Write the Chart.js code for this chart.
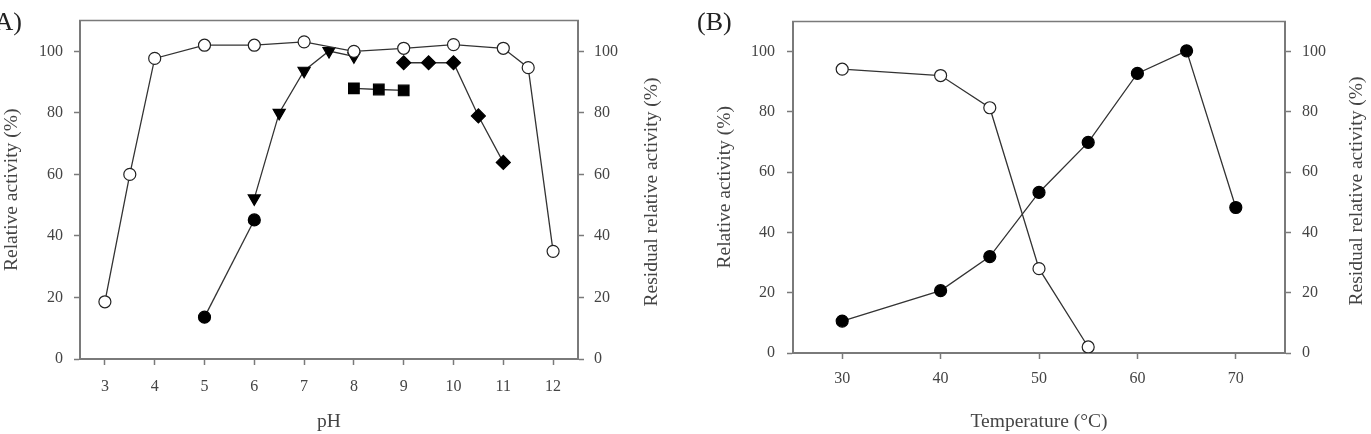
<!DOCTYPE html>
<html><head><meta charset="utf-8">
<script src="https://cdn.jsdelivr.net/npm/chart.js@4/dist/chart.umd.min.js"></script>
<style>html,body{margin:0;padding:0;background:#fff;overflow:hidden}
canvas{position:absolute;top:0}</style></head>
<body>
<canvas id="a" width="685" height="434" style="left:0"></canvas>
<canvas id="b" width="686" height="434" style="left:685px"></canvas>
<script>
// ---- tick labels ----
const pHTicks = [3,4,5,6,7,8,9,10,11,12];
const tempTicks = [30,40,50,60,70];
const yTicks = [0,20,40,60,80,100];

// ---- Panel A (pH) ----
const pH_open = [3,3.5,4,5,6,7,8,9,10,11,11.5,12];
const openA = [18.6,60,97.7,102,102,103.1,100,101,102.2,101,94.7,35];
const pH_circle = [5,6];
const circleA = [13.6,45.2];
const pH_triangle = [6,6.5,7,7.5,8];
const triangleA = [52.2,80,93.7,100.1,98.4];
const pH_square = [8,8.5,9];
const squareA = [88,87.6,87.3];
const pH_diamond = [9,9.5,10,10.5,11];
const diamondA = [96.3,96.3,96.3,79,63.9];

// ---- Panel B (temperature) ----
const temp_open = [30,40,45,50,55];
const openB = [94.2,92.1,81.4,28,2];
const temp_filled = [30,40,45,50,55,60,65,70];
const filledB = [10.6,20.7,32,53.3,69.9,92.8,100.3,48.3];

const FONT = '"Liberation Serif", "Times New Roman", serif';
const AX = '#7a7a7a';
const TXT = '#444';
const LINE = '#333';

const pts = (xs, ys) => xs.map((x, i) => ({x, y: ys[i]}));
const fixTicks = list => scale => { scale.ticks = list.map(v => ({value: v})); };

function ds(data, style, filled, radius, rotation, yAxisID){
  return {data, yAxisID, borderColor: LINE, borderWidth: 1.3,
    pointStyle: style, pointRotation: rotation || 0, pointRadius: radius,
    pointBackgroundColor: filled ? '#000' : '#fff', pointBorderColor: filled ? '#000' : '#222',
    pointBorderWidth: 1.2, pointHoverRadius: radius, tension: 0, showLine: true, fill: false};
}

function axisCommon(){
  return {
    grid: {drawOnChartArea: false, drawTicks: true, tickLength: 6, tickColor: AX, tickWidth: 1.5},
    border: {display: true, color: AX, width: 2},
  };
}

function makeOpts(cfg){
  return {
    responsive: false, animation: false, events: [],
    layout: {padding: {top: 9, left: 0, right: 0, bottom: 0}, autoPadding: false},
    plugins: {legend: {display: false}, tooltip: {enabled: false}},
    scales: {
      x: Object.assign(axisCommon(), {
        type: 'linear', min: cfg.xmin, max: cfg.xmax,
        afterBuildTicks: fixTicks(cfg.xticks),
        afterFit: s => { s.height = cfg.bottomH; },
        ticks: {font: {family: FONT, size: 16}, color: TXT, padding: cfg.xPad, maxRotation: 0, autoSkip: false},
        title: {display: true, text: cfg.xTitle, font: {family: FONT, size: 19.5}, color: TXT, padding: {top: 0, bottom: 0}}
      }),
      y: Object.assign(axisCommon(), {
        type: 'linear', position: 'left', min: 0, max: 110,
        afterBuildTicks: fixTicks(yTicks),
        afterFit: s => { s.width = cfg.leftW; },
        ticks: {font: {family: FONT, size: 16}, color: TXT, padding: cfg.yPadL},
        title: {display: true, text: 'Relative activity (%)', font: {family: FONT, size: 19.5}, color: TXT, padding: {top: cfg.ltPad, bottom: 0}}
      }),
      y2: Object.assign(axisCommon(), {
        type: 'linear', position: 'right', min: 0, max: 110,
        afterBuildTicks: fixTicks(yTicks),
        afterFit: s => { s.width = cfg.rightW; },
        ticks: {font: {family: FONT, size: 16}, color: TXT, padding: cfg.yPadR},
        title: {display: false}
      })
    }
  };
}

function deco(label, labelX, labelAlign, rtX, rtY){
  return {
    id: 'deco',
    beforeDatasetsDraw(chart){
      const {ctx, chartArea: {left, right, top}} = chart;
      ctx.save();
      ctx.strokeStyle = AX; ctx.lineWidth = 1.5;
      ctx.beginPath(); ctx.moveTo(left - 1, top); ctx.lineTo(right + 1, top); ctx.stroke();
      ctx.restore();
    },
    afterDraw(chart){
      const ctx = chart.ctx;
      ctx.save();
      ctx.fillStyle = '#222'; ctx.font = '26px ' + FONT;
      ctx.textAlign = labelAlign; ctx.textBaseline = 'middle';
      ctx.fillText(label, labelX, 23);
      ctx.translate(rtX, rtY); ctx.rotate(-Math.PI / 2);
      ctx.font = '19.5px ' + FONT; ctx.fillStyle = TXT; ctx.textAlign = 'center';
      ctx.fillText('Residual relative activity (%)', 0, 0);
      ctx.restore();
    }
  };
}

new Chart(document.getElementById('a'), {
  type: 'line',
  data: {datasets: [
    ds(pts(pH_open, openA), 'circle', false, 6, 0, 'y2'),
    ds(pts(pH_triangle, triangleA), 'triangle', true, 7, 180, 'y'),
    ds(pts(pH_circle, circleA), 'circle', true, 6, 0, 'y'),
    ds(pts(pH_square, squareA), 'rect', true, 7.5, 0, 'y'),
    ds(pts(pH_diamond, diamondA), 'rectRot', true, 7, 0, 'y')
  ]},
  options: makeOpts({xmin: 2.5, xmax: 12.5, xticks: pHTicks, bottomH: 75, xPad: 12, xTitle: 'pH',
    leftW: 80, rightW: 107, yPadL: 11, yPadR: 10, ltPad: 0}),
  plugins: [deco('(A)', 22, 'right', 652, 192)]
});

new Chart(document.getElementById('b'), {
  type: 'line',
  data: {datasets: [
    ds(pts(temp_open, openB), 'circle', false, 6, 0, 'y2'),
    ds(pts(temp_filled, filledB), 'circle', true, 6, 0, 'y')
  ]},
  options: makeOpts({xmin: 25, xmax: 75, xticks: tempTicks, bottomH: 81, xPad: 10, xTitle: 'Temperature (\u00B0C)',
    leftW: 108, rightW: 86, yPadL: 12, yPadR: 11, ltPad: 28}),
  plugins: [deco('(B)', 12, 'left', 672, 191)]
});
</script>
</body></html>
